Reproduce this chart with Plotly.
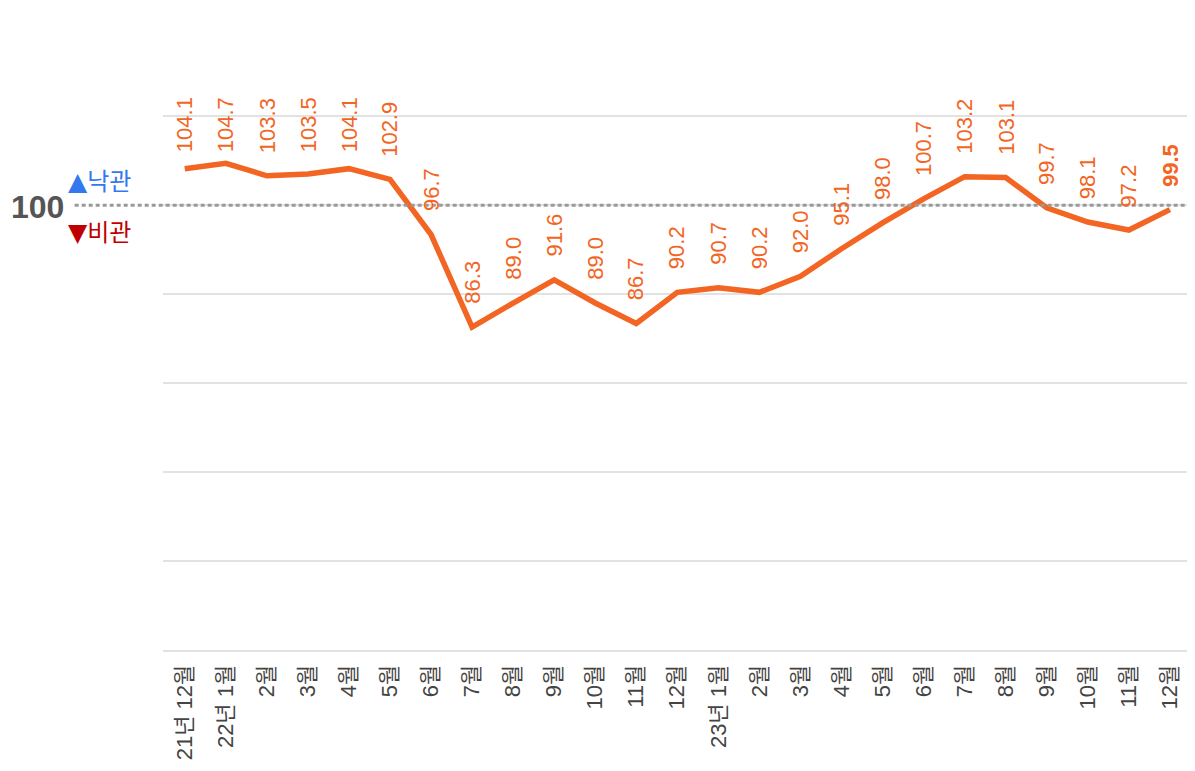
import plotly.graph_objects as go

categories = ["21년 12월", "22년 1월", "2월", "3월", "4월", "5월", "6월", "7월", "8월", "9월",
              "10월", "11월", "12월", "23년 1월", "2월", "3월", "4월", "5월", "6월", "7월",
              "8월", "9월", "10월", "11월", "12월"]
values = [104.1, 104.7, 103.3, 103.5, 104.1, 102.9, 96.7, 86.3, 89.0, 91.6,
          89.0, 86.7, 90.2, 90.7, 90.2, 92.0, 95.1, 98.0, 100.7, 103.2,
          103.1, 99.7, 98.1, 97.2, 99.5]
grid_vals = [60, 70, 80, 90, 100, 110]
baseline = 100

LINE = "#f26522"
FONT = "Liberation Sans, Arial, Noto Sans CJK KR, sans-serif"
label_cap = 103.4  # labels of higher points are kept below the chart top

x = list(range(len(values)))

fig = go.Figure()
fig.add_trace(go.Scatter(x=x, y=values, mode="lines",
                         line=dict(color=LINE, width=5.5), hoverinfo="skip",
                         showlegend=False))

annotations = []
for i, v in enumerate(values):
    last = i == len(values) - 1
    txt = f"{v:.1f}"
    if last:
        txt = f"<b>{txt}</b>"
    annotations.append(dict(x=i, y=min(v, label_cap), xref="x", yref="y", text=txt,
                            showarrow=False, textangle=-90, yanchor="bottom",
                            xanchor="center", yshift=21,
                            font=dict(family=FONT, size=22, color=LINE)))

tri = '<span style="font-family:DejaVu Sans;font-size:25px">{}</span>'
annotations.append(dict(x=-0.094, y=baseline, xref="paper", yref="y", text="<b>100</b>",
                        showarrow=False, xanchor="right", yanchor="middle", yshift=-2,
                        font=dict(family=FONT, size=32, color="#555555")))
annotations.append(dict(x=-0.094, y=baseline, xref="paper", yref="y", text=tri.format("▲") + "낙관",
                        showarrow=False, xanchor="left", yanchor="middle", yshift=24,
                        font=dict(family=FONT, size=24, color="#3478f0")))
annotations.append(dict(x=-0.094, y=baseline, xref="paper", yref="y", text=tri.format("▼") + "비관",
                        showarrow=False, xanchor="left", yanchor="middle", yshift=-27,
                        font=dict(family=FONT, size=24, color="#c00000")))

fig.add_shape(type="line", xref="paper", yref="y", x0=-0.086, x1=1, y0=baseline, y1=baseline,
              line=dict(color="#999999", width=3, dash="4px,3px"), layer="above")

fig.update_layout(
    width=1187, height=763,
    margin=dict(l=155, r=5, t=37, b=121),
    plot_bgcolor="white", paper_bgcolor="white",
    annotations=annotations,
    xaxis=dict(range=[-0.53, 24.49], tickmode="array", tickvals=x, ticktext=categories,
               tickangle=-90, showgrid=False, zeroline=False,
               showline=True, linecolor="#e2e2e2", linewidth=2,
               ticks="outside", ticklen=4, tickcolor="rgba(0,0,0,0)",
               tickfont=dict(family=FONT, size=22, color="#444444")),
    yaxis=dict(range=[50, 118], tickmode="array", tickvals=grid_vals, showticklabels=False,
               showgrid=True, gridcolor="#e2e2e2", gridwidth=2, zeroline=False, showline=False),
)

fig.write_html("out.html")
